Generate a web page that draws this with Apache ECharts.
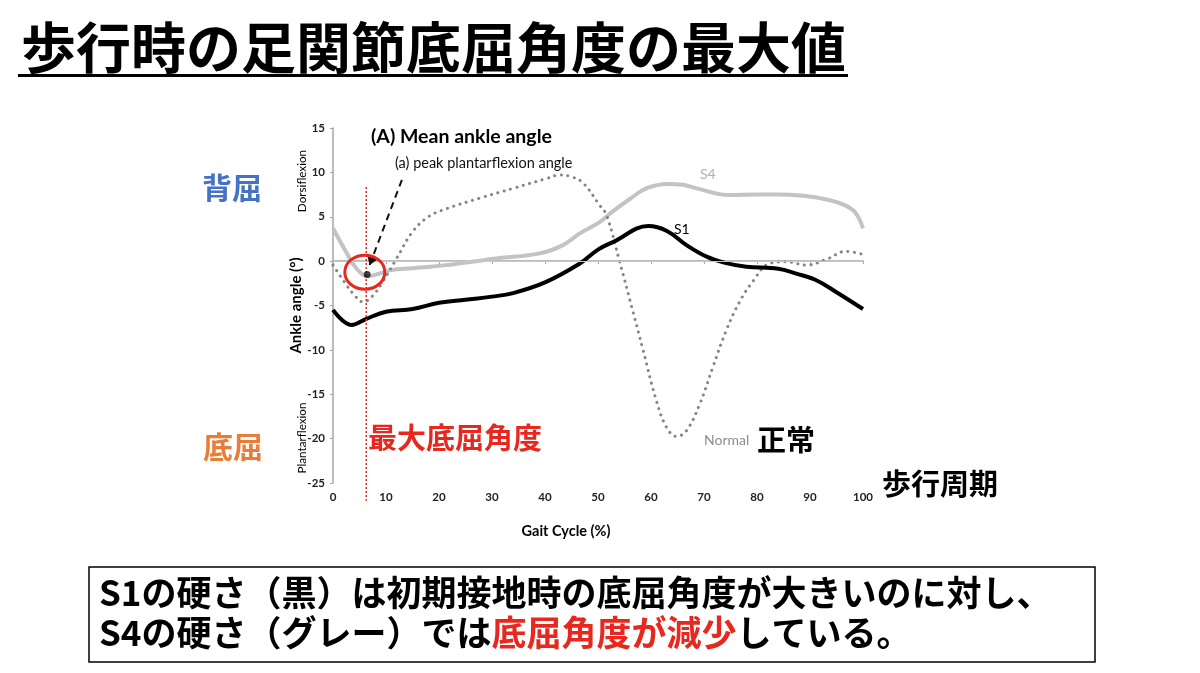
<!DOCTYPE html>
<html><head><meta charset="utf-8">
<script src="https://cdn.jsdelivr.net/npm/echarts@6/dist/echarts.min.js"></script>
<style>html,body{margin:0;padding:0;background:#fff}#c{width:1200px;height:673px}</style>
</head><body><div id="c"></div>
<script>
// ---- data ----
const xTicks = [0,10,20,30,40,50,60,70,80,90,100];
const yTicks = [-25,-20,-15,-10,-5,0,5,10,15];

const s1X = [0, 3.5, 6.3, 10, 15, 20, 25, 30, 34, 40, 46.5, 50, 53, 59.5, 63, 66.7, 70.5, 74, 78, 84, 87.4, 91, 95, 100];
const s1Y = [-5.5, -7.2, -6.5, -5.7, -5.4, -4.7, -4.35, -4.0, -3.6, -2.4, -0.3, 1.3, 2.2, 3.95, 3.4, 1.8, 0.5, -0.2, -0.64, -0.85, -1.4, -2.1, -3.5, -5.4];

const s4X = [0, 2.5, 4.4, 6.5, 8.8, 11, 15, 21.4, 30.8, 39, 43.4, 46.5, 50.3, 52.8, 56, 59.1, 63.2, 66, 68.6, 74.8, 80, 84.3, 88, 91.8, 96.2, 98.5, 100];
const s4Y = [3.7, 1.0, -0.8, -1.7, -1.4, -1.0, -0.8, -0.45, 0.3, 0.87, 1.8, 3.1, 4.4, 5.6, 7.0, 8.2, 8.7, 8.6, 8.2, 7.45, 7.5, 7.5, 7.4, 7.1, 6.4, 5.5, 3.7];

const normX = [0, 2.1, 4, 5.7, 7.5, 9.4, 12, 15, 18, 21.4, 27.7, 34, 40.3, 42.8, 45, 47.2, 50.3, 51.6, 54.1, 56.6, 58.5, 61, 62.9, 64.8, 66.7, 69.2, 71.7, 74.2, 76.7, 79.2, 82.4, 85.5, 89.3, 93.1, 96.8, 100];
const normY = [-0.45, -2.3, -3.8, -4.6, -3.9, -2.3, 0.3, 3.3, 5.0, 5.9, 7.1, 8.2, 9.3, 9.7, 9.5, 8.8, 6.3, 5.2, -0.1, -5.7, -10, -15.7, -18.7, -19.75, -19.1, -16.1, -11.9, -7.8, -4.6, -2.3, -0.26, -0.08, -0.45, 0.2, 1.1, 0.75];

const peakPoint = [6.45, -1.5];       // marked peak plantarflexion (S4)
const peakLineX = 6.27;                // red vertical line
const arrowFrom = [13, 9.15];
const arrowTo = [6.9, -0.45];
const circleCenter = [6.0, -1.25];

const zip = (xs, ys) => xs.map((x, i) => [x, ys[i]]);

const JP = '"Noto Sans CJK JP", sans-serif';
const LAT = 'Lato, "Open Sans", sans-serif';

const chart = echarts.init(document.getElementById('c'));
const option = {
  backgroundColor: '#fff',
  animation: false,
  grid: { left: 333, right: 337, top: 128, bottom: 190 },
  xAxis: {
    type: 'value', min: 0, max: 100, interval: 10,
    axisLine: { lineStyle: { color: '#a6a6a6', width: 1.5 } },
    axisTick: { show: true, length: 3, lineStyle: { color: '#a6a6a6' } },
    splitLine: { show: false },
    axisLabel: { color: '#222', fontSize: 11.5, fontWeight: 'bold', fontFamily: LAT, margin: 8 }
  },
  yAxis: {
    type: 'value', min: -25, max: 15, interval: 5,
    name: 'Ankle angle (°)', nameLocation: 'middle', nameGap: 27, nameRotate: 90,
    nameTextStyle: { fontSize: 15, fontWeight: 'bold', color: '#000', fontFamily: LAT },
    axisLine: { show: true, lineStyle: { color: '#a6a6a6', width: 1.5 } },
    axisTick: { show: true, length: 3, lineStyle: { color: '#a6a6a6' } },
    splitLine: { show: false },
    axisLabel: { color: '#222', fontSize: 11.5, fontWeight: 'bold', fontFamily: LAT, margin: 8 }
  },
  series: [
    {
      name: 'zero', type: 'line', data: [], silent: true,
      markLine: { silent: true, symbol: 'none', label: { show: false },
        lineStyle: { color: '#c8c8c8', width: 1, type: 'solid' }, data: [{ yAxis: 0 }] }
    },
    {
      name: 'S4', type: 'line', data: zip(s4X, s4Y), smooth: 0.4, showSymbol: false,
      lineStyle: { color: '#c3c3c3', width: 4 }, z: 2
    },
    {
      name: 'Normal', type: 'line', data: zip(normX, normY), smooth: 0.4, showSymbol: false,
      lineStyle: { color: '#858585', width: 3, type: [0.1, 6.5], cap: 'round' }, z: 3
    },
    {
      name: 'S1', type: 'line', data: zip(s1X, s1Y), smooth: 0.4, showSymbol: false,
      lineStyle: { color: '#000', width: 4 }, z: 4
    },
    {
      name: 'arrow', type: 'line', data: [], silent: true,
      markLine: { silent: true, symbol: ['none', 'arrow'], symbolSize: 10, label: { show: false },
        lineStyle: { color: '#111', width: 2, type: [7, 5] },
        data: [[{ coord: arrowFrom }, { coord: arrowTo }]] }
    },
    {
      name: 'peak', type: 'scatter', data: [peakPoint], symbolSize: 7,
      itemStyle: { color: '#111' }, z: 6
    }
  ],
  graphic: []
};
chart.setOption(option);

const p = (v) => chart.convertToPixel({ gridIndex: 0 }, v);
const lineTop = p([peakLineX, 8.35]);
const lineBot = p([peakLineX, -27.0]);
const cc = p(circleCenter);

const txt = (x, y, text, size, color, weight, family, align) => ({
  type: 'text', x, y,
  style: { text, fontSize: size, fill: color, fontWeight: weight || 'normal',
    fontFamily: family || JP, align: align || 'left', verticalAlign: 'middle' }
});

chart.setOption({
  graphic: [
    // title
    txt(21, 47, '歩行時の足関節底屈角度の最大値', 55, '#000', 'bold'),
    { type: 'rect', shape: { x: 18, y: 74, width: 830, height: 3 }, style: { fill: '#000' } },
    // vertical red dotted line
    { type: 'line', shape: { x1: lineTop[0], y1: lineTop[1], x2: lineBot[0], y2: lineBot[1] },
      style: { stroke: '#e8281e', lineWidth: 1.5, lineDash: [2, 2] }, z: 5 },
    // red circle
    { type: 'ellipse', shape: { cx: cc[0], cy: cc[1], rx: 20, ry: 17 },
      style: { stroke: '#e8281e', lineWidth: 3, fill: null }, z: 7 },
    // chart annotations
    txt(371, 137, '(A) Mean ankle angle', 19.5, '#000', 'bold', LAT),
    txt(395, 163, '(a) peak plantarflexion angle', 14.5, '#111', 'normal', LAT),
    txt(700, 174, 'S4', 14, '#b0b0b0', 'normal', LAT),
    txt(674, 229, 'S1', 14, '#000', 'normal', LAT),
    txt(704, 440, 'Normal', 14, '#8c8c8c', 'normal', LAT),
    txt(757, 440, '正常', 29, '#000', 'bold'),
    txt(368, 438, '最大底屈角度', 29, '#e8281e', 'bold'),
    txt(882, 484, '歩行周期', 29, '#000', 'bold'),
    txt(566, 531, 'Gait Cycle (%)', 14.5, '#000', 'bold', LAT, 'center'),
    { type: 'text', x: 302, y: 181, rotation: Math.PI / 2,
      style: { text: 'Dorsiflexion', fontSize: 11.7, fill: '#000', fontFamily: LAT, align: 'center', verticalAlign: 'middle' } },
    { type: 'text', x: 302, y: 438, rotation: Math.PI / 2,
      style: { text: 'Plantarflexion', fontSize: 11.7, fill: '#000', fontFamily: LAT, align: 'center', verticalAlign: 'middle' } },
    // side labels
    txt(232, 188, '背屈', 30, '#4472c4', 'bold', JP, 'center'),
    txt(233, 447, '底屈', 30, '#e97c37', 'bold', JP, 'center'),
    // bottom box
    { type: 'rect', shape: { x: 89, y: 567, width: 1006, height: 95 },
      style: { stroke: '#000', lineWidth: 1.5, fill: '#fff' } },
    txt(99, 593, 'S1の硬さ（黒）は初期接地時の底屈角度が大きいのに対し、', 35, '#000', 'bold'),
    { type: 'text', x: 99, y: 633, style: { rich: {
        k: { fontSize: 35, fontWeight: 'bold', fill: '#000', fontFamily: JP },
        r: { fontSize: 35, fontWeight: 'bold', fill: '#e8281e', fontFamily: JP } },
      text: '{k|S4の硬さ（グレー）では}{r|底屈角度が減少}{k|している。}', verticalAlign: 'middle' } }
  ]
});
</script></body></html>
